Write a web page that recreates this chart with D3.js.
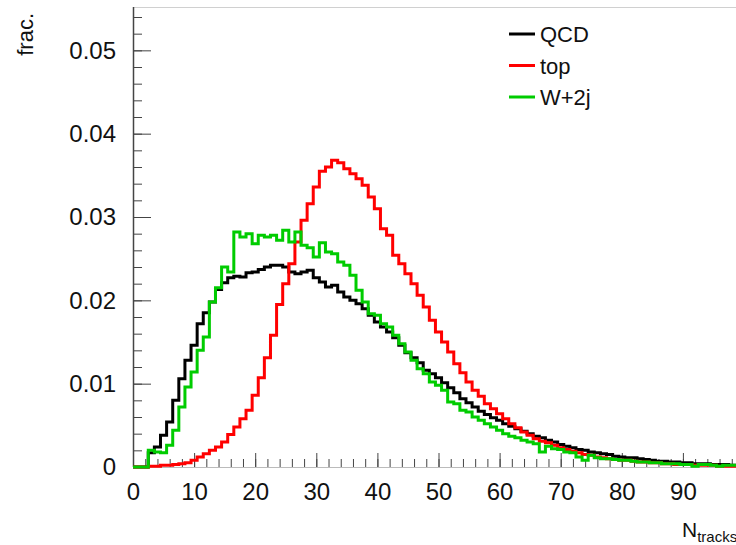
<!DOCTYPE html>
<html>
<head>
<meta charset="utf-8">
<script src="https://cdn.jsdelivr.net/npm/d3@7"></script>
<style>
  body { margin: 0; background: #fff; }
  svg { display: block; font-family: 'Liberation Sans', Arial, sans-serif; }
</style>
</head>
<body>
<svg id="chart" width="736" height="545"></svg>
<script>
// N_tracks histogram, one bin per track count (bin centred on the integer)
const binCenters = d3.range(0, 100);

const qcd = [
    0, 0, 0, 0.0017, 0.0024, 0.0038, 0.0054, 0.0080, 0.0106, 0.0128,
    0.0146, 0.0172, 0.0185, 0.0198, 0.0213, 0.0221, 0.0227, 0.0229, 0.0228, 0.0233,
    0.0234, 0.0237, 0.0240, 0.0242, 0.0242, 0.0240, 0.0234, 0.0232, 0.0234, 0.0236,
    0.0227, 0.0222, 0.0216, 0.0218, 0.0210, 0.0204, 0.0200, 0.0196, 0.0190, 0.0182,
    0.0174, 0.0168, 0.0162, 0.0155, 0.0146, 0.0137, 0.0131, 0.0125, 0.0116, 0.0112,
    0.0107, 0.0101, 0.0095, 0.0089, 0.0082, 0.0077, 0.0072, 0.0067, 0.0063, 0.0059,
    0.0056, 0.0052, 0.0049, 0.0046, 0.0043, 0.0040, 0.0037, 0.0035, 0.0032, 0.0030,
    0.0027, 0.0025, 0.0023, 0.0021, 0.0020, 0.0018, 0.0017, 0.0016, 0.0015, 0.0013,
    0.0012, 0.0011, 0.0011, 0.0010, 0.0009, 0.0008, 0.0007, 0.0007, 0.0006, 0.0006,
    0.0005, 0.0005, 0.0004, 0.0004, 0.0004, 0.0003, 0.0003, 0.0003, 0.0002, 0.0002
];

const topQuark = [
    0, 0, 0, 0.0001, 0.0001, 0.0002, 0.0002, 0.0003, 0.0004, 0.0005,
    0.0008, 0.0012, 0.0016, 0.0020, 0.0024, 0.0030, 0.0039, 0.0048, 0.0058, 0.0068,
    0.0086, 0.0107, 0.0131, 0.0158, 0.0195, 0.0220, 0.0244, 0.0270, 0.0296, 0.0316,
    0.0336, 0.0355, 0.0360, 0.0368, 0.0365, 0.0358, 0.0352, 0.0346, 0.0338, 0.0324,
    0.0310, 0.0286, 0.0278, 0.0254, 0.0244, 0.0232, 0.0220, 0.0206, 0.0192, 0.0176,
    0.0162, 0.0150, 0.0138, 0.0124, 0.0113, 0.0102, 0.0092, 0.0085, 0.0076, 0.0070,
    0.0064, 0.0058, 0.0052, 0.0047, 0.0042, 0.0038, 0.0034, 0.0031, 0.0029, 0.0026,
    0.0023, 0.0021, 0.0019, 0.0017, 0.0015, 0.0014, 0.0012, 0.0011, 0.0010, 0.0009,
    0.0008, 0.0008, 0.0007, 0.0006, 0.0006, 0.0005, 0.0005, 0.0004, 0.0004, 0.0003,
    0.0003, 0.0003, 0.0002, 0.0002, 0.0002, 0.0002, 0.0001, 0.0001, 0.0001, 0.0001
];

const w2j = [
    0, 0, 0, 0.0020, 0.0018, 0.0017, 0.0026, 0.0044, 0.0072, 0.0096,
    0.0114, 0.0140, 0.0156, 0.0198, 0.0215, 0.0240, 0.0234, 0.0282, 0.0276, 0.0280,
    0.0268, 0.0278, 0.0276, 0.0278, 0.0272, 0.0284, 0.0270, 0.0282, 0.0266, 0.0263,
    0.0252, 0.0269, 0.0258, 0.0256, 0.0246, 0.0242, 0.0230, 0.0212, 0.0198, 0.0184,
    0.0182, 0.0172, 0.0168, 0.0158, 0.0148, 0.0138, 0.0128, 0.0118, 0.0112, 0.0102,
    0.0098, 0.0092, 0.0078, 0.0076, 0.0068, 0.0066, 0.0060, 0.0056, 0.0052, 0.0048,
    0.0044, 0.0040, 0.0037, 0.0035, 0.0032, 0.0030, 0.0028, 0.0018, 0.0025, 0.0022,
    0.0021, 0.0018, 0.0017, 0.0012, 0.0008, 0.0014, 0.0011, 0.0010, 0.0010, 0.0009,
    0.0008, 0.0008, 0.0007, 0.0006, 0.0006, 0.0005, 0.0005, 0.0004, 0.0004, 0.0004,
    0.0003, 0.0003, 0.0001, 0.0003, 0.0003, 0.0002, 0.0001, 0.0002, 0.0002, 0.0002
];

const seriesNames = ['QCD', 'top', 'W+2j'];
const seriesColors = ['#000000', '#ff0000', '#00cc00'];
const xTicks = [0, 10, 20, 30, 40, 50, 60, 70, 80, 90];
const yTicks = [0, 0.01, 0.02, 0.03, 0.04, 0.05];
const yTickLabels = ['0', '0.01', '0.02', '0.03', '0.04', '0.05'];

const svg = d3.select('#chart');
const left = 133, right = 744, topY = 7, bottom = 467;

const x = d3.scaleLinear().domain([0, 100]).range([left, right]);
const y = d3.scaleLinear().domain([0, 0.0552]).range([bottom, topY]);

// frame
svg.append('line')
    .attr('x1', left).attr('x2', 736)
    .attr('y1', topY + 0.5).attr('y2', topY + 0.5)
    .attr('stroke', '#d0d0d0');

// y axis: minor then major ticks, pointing into the plot
svg.append('g')
    .attr('transform', `translate(${left},0)`)
    .call(d3.axisLeft(y).tickValues(d3.range(0, 0.0551, 0.002)).tickSize(-9).tickFormat(''))
    .call(g => g.select('.domain').remove())
    .selectAll('line').attr('stroke', '#444');

svg.append('g')
    .attr('transform', `translate(${left},0)`)
    .call(d3.axisLeft(y).tickValues(yTicks).tickSize(-18).tickPadding(17)
        .tickFormat((d, i) => yTickLabels[i]))
    .call(g => g.select('.domain').remove())
    .call(g => g.selectAll('line').attr('stroke', '#444'))
    .call(g => g.selectAll('text').attr('font-size', 24).attr('fill', '#111')
        .attr('font-family', "'Liberation Sans', Arial, sans-serif"));

// x axis
svg.append('g')
    .attr('transform', `translate(0,${bottom})`)
    .call(d3.axisBottom(x).tickValues(d3.range(0, 100, 2)).tickSize(-8).tickFormat(''))
    .call(g => g.select('.domain').remove())
    .selectAll('line').attr('stroke', '#444');

svg.append('g')
    .attr('transform', `translate(0,${bottom})`)
    .call(d3.axisBottom(x).tickValues(xTicks).tickSize(-14).tickPadding(16))
    .call(g => g.select('.domain').remove())
    .call(g => g.selectAll('line').attr('stroke', '#444'))
    .call(g => g.selectAll('text').attr('font-size', 24).attr('fill', '#111')
        .attr('font-family', "'Liberation Sans', Arial, sans-serif"));

// axis lines
svg.append('line')
    .attr('x1', left + 0.5).attr('x2', left + 0.5)
    .attr('y1', topY).attr('y2', bottom)
    .attr('stroke', '#444').attr('stroke-width', 1.5);
svg.append('line')
    .attr('x1', left).attr('x2', 736)
    .attr('y1', bottom + 0.5).attr('y2', bottom + 0.5)
    .attr('stroke', '#bbb');

// histograms as step outlines
const stepLine = d3.line()
    .x(d => x(d[0]))
    .y(d => y(d[1]))
    .curve(d3.curveStepAfter);

function histPoints(values) {
    const pts = values.map((v, i) => [Math.max(0, binCenters[i] - 0.5), v]);
    const last = values.length - 1;
    pts.push([binCenters[last] + 0.5, values[last]]);
    return pts;
}

const allSeries = [qcd, topQuark, w2j];

svg.append('g')
    .attr('fill', 'none')
    .attr('stroke-width', 3)
    .attr('stroke-linejoin', 'miter')
    .selectAll('path')
    .data(allSeries)
    .join('path')
    .attr('stroke', (d, i) => seriesColors[i])
    .attr('d', d => stepLine(histPoints(d)));

// legend
const legend = svg.append('g')
    .attr('font-size', 22)
    .selectAll('g')
    .data(seriesNames)
    .join('g')
    .attr('transform', (d, i) => `translate(509,${34 + i * 31.5})`);

legend.append('line')
    .attr('x1', 0).attr('x2', 26)
    .attr('stroke', (d, i) => seriesColors[i])
    .attr('stroke-width', 3);

legend.append('text')
    .attr('x', 31)
    .attr('y', 8)
    .attr('fill', '#111')
    .text(d => d);

// axis titles
svg.append('text')
    .attr('transform', 'translate(33,13) rotate(-90)')
    .attr('text-anchor', 'end')
    .attr('font-size', 22)
    .attr('fill', '#111')
    .text('frac.');

const xTitle = svg.append('text')
    .attr('x', 682)
    .attr('y', 537)
    .attr('font-size', 21)
    .attr('fill', '#111');
xTitle.append('tspan').text('N');
xTitle.append('tspan').attr('font-size', 15).attr('dy', 5).text('tracks');
</script>
</body>
</html>
